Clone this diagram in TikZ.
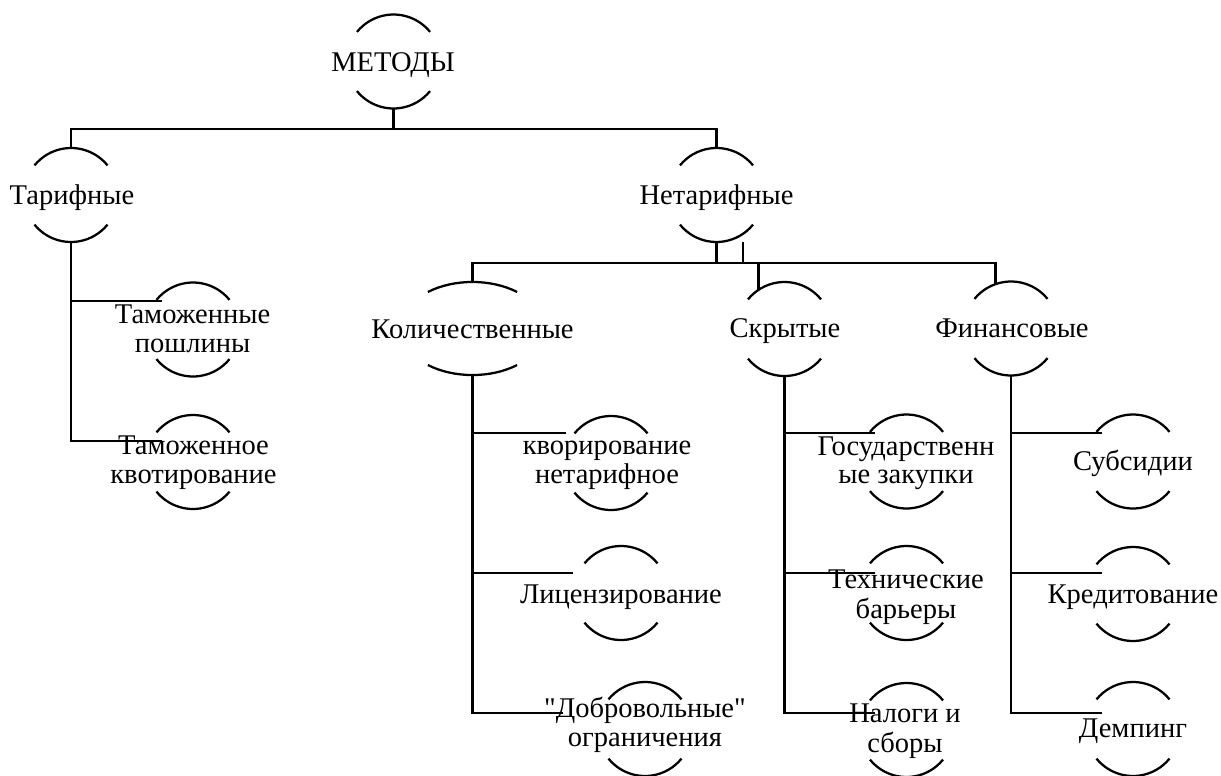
\documentclass[tikz,border=0pt]{standalone}
\usepackage{fontspec}
\setmainfont{Liberation Serif}[Ligatures=TeXOff]
\usetikzlibrary{shapes.geometric}
\tikzset{
  ring/.style={circle, minimum size=70.5pt, inner sep=0pt, outer sep=0pt},
  arcline/.style={line width=1.7pt},
  conn/.style={line width=2.1pt},
  lbl/.style={font=\fontsize{21.4}{21.4}\selectfont, align=center, inner sep=0pt, outer sep=0pt}
}
\begin{document}
\begin{tikzpicture}[x=0.75pt,y=-0.75pt]
\useasboundingbox (0,0) rectangle (1221,775);
% ring nodes
\node[ring] (m)  at (393.5,61.5) {};
\node[ring] (t)  at (71,195) {};
\node[ring] (n)  at (716.5,195) {};
\node[ellipse, minimum width=108pt, minimum height=69.75pt, inner sep=0pt, outer sep=0pt] (k) at (472.5,328.5) {};
\node[ring] (s)  at (784.5,329) {};
\node[ring] (f)  at (1011,328.5) {};
\node[ring] (t1) at (193,329.5) {};
\node[ring] (t2) at (193,462) {};
\node[ring] (k1) at (611,463) {};
\node[ring] (k2) at (621,593) {};
\node[ring] (k3) at (645,729) {};
\node[ring] (s1) at (906.5,461.5) {};
\node[ring] (s2) at (906.5,593) {};
\node[ring] (s3) at (906.5,730) {};
\node[ring] (f1) at (1133,461.5) {};
\node[ring] (f2) at (1133,594) {};
\node[ring] (f3) at (1133,729) {};
% arcs
\foreach \r in {m,t,n,s,f,t1,t2,k1,k2,k3,s1,s2,s3,f1,f2,f3}{
  \draw[arcline] (\r.39) arc[start angle=39, end angle=141, radius=35.25pt];
  \draw[arcline] (\r.219) arc[start angle=219, end angle=321, radius=35.25pt];
}
\draw[arcline] (k.center) ++(51.7:54pt and 34.9pt) arc[start angle=51.7, end angle=128.3, x radius=54pt, y radius=34.9pt];
\draw[arcline] (k.center) ++(231.7:54pt and 34.9pt) arc[start angle=231.7, end angle=308.3, x radius=54pt, y radius=34.9pt];
% texts
\node[lbl] (mt)  at (393,65.3)   {\strut МЕТОДЫ};
\node[lbl] (tt)  at (72,198.3)   {\strut Тарифные};
\node[lbl] (nt)  at (716.5,198.3) {\strut Нетарифные};
\node[lbl] (kt)  at (472.5,332.3) {\strut Количественные};
\node[lbl] (st)  at (785,331.3)  {\strut Скрытые};
\node[lbl] (ft)  at (1012,331.3) {\strut Финансовые};
\node[lbl] (t1t) at (192.5,332.3) {\strut Таможенные\\\strut пошлины};
\node[lbl] (t2t) at (193.5,463.3) {\strut Таможенное\\\strut квотирование};
\node[lbl] (k1t) at (607,463.3)  {\strut кворирование\\\strut нетарифное};
\node[lbl] (k2t) at (621,597.3)  {\strut Лицензирование};
\node[lbl] (k3t) at (645,725.8)  {\strut "Добровольные"\\\strut ограничения};
\node[lbl] (s1t) at (906,463.8)  {\strut Государственн\\\strut ые закупки};
\node[lbl] (s2t) at (906,597.8)  {\strut Технические\\\strut барьеры};
\node[lbl] (s3t) at (905,731.8)  {\strut Налоги и\\\strut сборы};
\node[lbl] (f1t) at (1133,464.3) {\strut Субсидии};
\node[lbl] (f2t) at (1133,597.3) {\strut Кредитование};
\node[lbl] (f3t) at (1133,731.3) {\strut Демпинг};
% connector coordinates
\coordinate (b1) at (393.5,129);
\coordinate (b2) at (716.5,263);
\coordinate (te1) at (162,301);
\coordinate (te2) at (162,441);
\coordinate (ke1) at (566,433);
\coordinate (ke2) at (573,573);
\coordinate (ke3) at (563,713);
\coordinate (se1) at (875,433);
\coordinate (se2) at (875,573);
\coordinate (se3) at (875,713);
\coordinate (fe1) at (1102,433);
\coordinate (fe2) at (1102,573);
\coordinate (fe3) at (1102,713);
% connectors
\draw[conn] (m.south) -- (b1);
\draw[conn] (t.north) |- (b1) -| (n.north);
\draw[conn] (t.south) |- (te2);
\draw[conn] (t.south |- te1) -- (te1);
\draw[conn] (n.south) -- (b2);
\draw[conn] ([xshift=19.9pt]n.south) -- ([xshift=19.9pt]b2);
\draw[conn] (k.north) |- (b2) -| (f.109);
\draw[conn] (s.124) -- (s.124 |- b2);
\draw[conn] (k.south) |- (ke3);
\draw[conn] (k.south |- ke1) -- (ke1);
\draw[conn] (k.south |- ke2) -- (ke2);
\draw[conn] (s.south) |- (se3);
\draw[conn] (s.south |- se1) -- (se1);
\draw[conn] (s.south |- se2) -- (se2);
\draw[conn] (f.south) |- (fe3);
\draw[conn] (f.south |- fe1) -- (fe1);
\draw[conn] (f.south |- fe2) -- (fe2);
\end{tikzpicture}
\end{document}
